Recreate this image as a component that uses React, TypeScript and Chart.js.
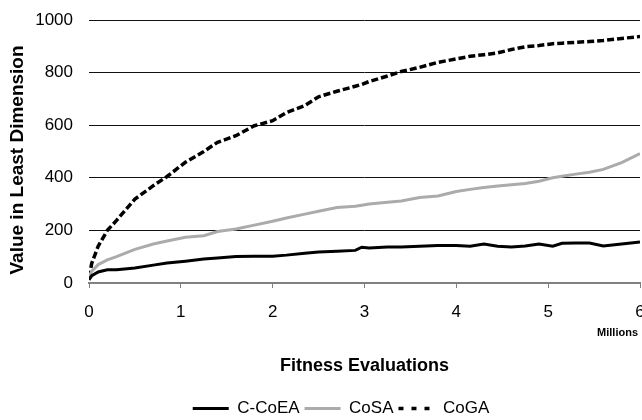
import React, { useEffect, useRef } from "react";
import { Chart, registerables } from "chart.js";

Chart.register(...registerables);

const xMillions = [0, 0.03, 0.1, 0.2, 0.3, 0.5, 0.7, 0.85, 1.05, 1.25, 1.4, 1.6, 1.8, 2.0, 2.15, 2.35, 2.5, 2.7, 2.9, 2.97, 3.05, 3.25, 3.4, 3.6, 3.8, 4.0, 4.15, 4.3, 4.45, 4.6, 4.75, 4.9, 5.05, 5.15, 5.3, 5.45, 5.6, 5.8, 6.0];

const cCoEA = [12, 28, 42, 50, 50, 57, 68, 76, 83, 91, 95, 101, 102, 102, 106, 113, 118, 121, 124, 136, 133, 137, 137, 140, 143, 143, 140, 148, 140, 137, 141, 148, 140, 151, 152, 152, 141, 148, 156];
const coSA = [25, 45, 70, 88, 100, 128, 148, 160, 174, 180, 196, 205, 220, 235, 247, 262, 273, 287, 292, 296, 300, 307, 312, 325, 331, 348, 356, 363, 369, 374, 378, 387, 400, 406, 414, 421, 432, 458, 492];
const coGA = [20, 75, 140, 200, 238, 319, 370, 405, 459, 500, 535, 560, 598, 617, 648, 675, 708, 729, 748, 755, 766, 787, 804, 820, 839, 852, 862, 868, 875, 888, 898, 903, 910, 912, 915, 918, 922, 930, 937];

const yTicks = [0, 200, 400, 600, 800, 1000];
const xTicks = [0, 1, 2, 3, 4, 5, 6];

const FONT = "'Liberation Sans', Arial, sans-serif";

export default function App() {
  const ref = useRef<HTMLCanvasElement | null>(null);

  useEffect(() => {
    if (!ref.current) return;
    const toPts = (arr: number[]) => arr.map((v, i) => ({ x: xMillions[i], y: v }));

    const extraText = {
      id: "extraText",
      afterLayout(chart: any) {
        if (chart.legend) chart.legend.left = 42;
      },
      afterDraw(chart: any) {
        const ctx = chart.ctx;
        ctx.save();
        ctx.fillStyle = "#000";
        ctx.font = `bold 11px ${FONT}`;
        ctx.textAlign = "right";
        ctx.textBaseline = "middle";
        ctx.fillText("Millions", 638, 333);
        ctx.translate(18, 160);
        ctx.rotate(-Math.PI / 2);
        ctx.font = `bold 19px ${FONT}`;
        ctx.textAlign = "center";
        ctx.fillText("Value in Least Dimension", 0, 0);
        ctx.restore();
      },
    };

    const chart = new Chart(ref.current, {
      type: "line",
      data: {
        datasets: [
          {
            label: "C-CoEA",
            data: toPts(cCoEA),
            borderColor: "#000000",
            backgroundColor: "#000000",
            borderWidth: 3,
            pointRadius: 0,
            tension: 0,
          },
          {
            label: "CoSA",
            data: toPts(coSA),
            borderColor: "#ababab",
            backgroundColor: "#ababab",
            borderWidth: 3,
            pointRadius: 0,
            tension: 0,
          },
          {
            label: "CoGA",
            data: toPts(coGA),
            borderColor: "#000000",
            backgroundColor: "#000000",
            borderWidth: 3.5,
            borderDash: [7, 3],
            pointRadius: 0,
            tension: 0,
          },
        ],
      },
      options: {
        responsive: false,
        animation: false,
        layout: { padding: { left: 0, right: 2, top: 20, bottom: -7 } },
        plugins: {
          tooltip: { enabled: false },
          legend: {
            position: "bottom",
            labels: {
              font: { family: FONT, size: 17 },
              color: "#000",
              usePointStyle: true,
              pointStyle: "line",
              pointStyleWidth: 36,
              boxHeight: 17,
              padding: 5,
              generateLabels(chart: any) {
                const items = Chart.defaults.plugins.legend.labels.generateLabels(chart);
                items.forEach((it: any) => {
                  it.pointStyle = "line";
                  if (it.text === "CoGA") it.lineDash = [5, 8];
                });
                return items;
              },
            },
          },
        },
        scales: {
          x: {
            type: "linear",
            min: 0,
            max: 6,
            afterBuildTicks(scale: any) {
              scale.ticks = xTicks.map((v) => ({ value: v }));
            },
            afterFit(scale: any) {
              scale.height = 112;
              scale.paddingLeft = 0;
              scale.paddingRight = 0;
            },
            grid: {
              drawOnChartArea: false,
              drawTicks: true,
              tickLength: 5,
              color: "#808080",
              lineWidth: 1,
            },
            border: { display: true, color: "#808080", width: 2 },
            ticks: {
              font: { family: FONT, size: 17 },
              color: "#000",
              padding: 14,
              maxRotation: 0,
              callback: (v: any) => String(v),
            },
            title: {
              display: true,
              text: "Fitness Evaluations",
              font: { family: FONT, size: 18, weight: "bold" },
              color: "#000",
              padding: { top: 0, bottom: 18 },
            },
          },
          y: {
            min: 0,
            max: 1000,
            afterBuildTicks(scale: any) {
              scale.ticks = yTicks.map((v) => ({ value: v }));
            },
            afterFit(scale: any) {
              scale.width = 89;
              scale.paddingTop = 0;
              scale.paddingBottom = 0;
            },
            grid: {
              drawTicks: false,
              color: (c: any) => (c.tick && c.tick.value === 0 ? "rgba(0,0,0,0)" : "#111"),
              lineWidth: 1,
            },
            border: { display: false },
            ticks: {
              font: { family: FONT, size: 17 },
              color: "#000",
              padding: 16,
              callback: (v: any) => String(v),
            },
          },
        },
      },
      plugins: [extraText],
    } as any);

    return () => chart.destroy();
  }, []);

  return (
    <div style={{ position: "fixed", left: 0, top: 0, width: 642, height: 420, background: "#fff" }}>
      <canvas ref={ref} width={642} height={420} />
    </div>
  );
}
